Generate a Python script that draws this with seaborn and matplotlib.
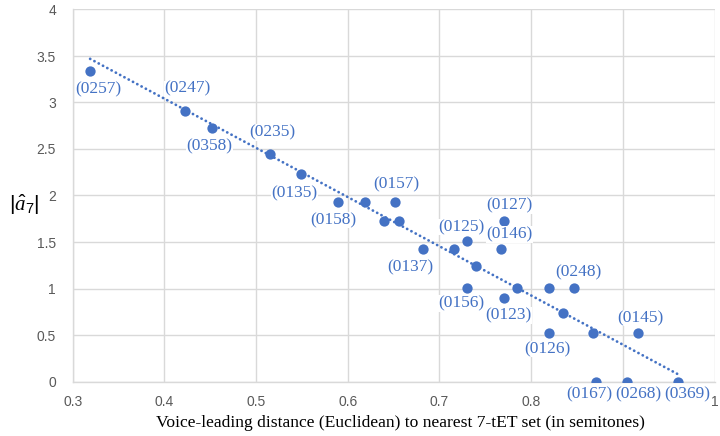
import numpy as np
import pandas as pd
import matplotlib
matplotlib.use("Agg")
import matplotlib.pyplot as plt
import seaborn as sns

# ---- data ----
distance = [0.319, 0.4225, 0.4516, 0.5148, 0.5486, 0.5896, 0.619, 0.652, 0.6395, 0.656,
            0.6823, 0.7155, 0.730, 0.740, 0.730, 0.7707, 0.7674, 0.7707, 0.7842, 0.8194,
            0.8467, 0.8343, 0.8194, 0.8677, 0.9168, 0.8707, 0.9048, 0.9604]
magnitude = [3.34, 2.91, 2.73, 2.45, 2.23, 1.93, 1.93, 1.93, 1.73, 1.73,
             1.42, 1.42, 1.51, 1.24, 1.01, 1.73, 1.42, 0.90, 1.01, 1.01,
             1.01, 0.74, 0.52, 0.52, 0.52, 0.0, 0.0, 0.0]
labels = ["(0257)", "(0247)", "(0358)", "(0235)", "(0135)", "(0158)", "", "(0157)", "", "",
          "(0137)", "", "(0125)", "", "(0156)", "(0127)", "(0146)", "(0123)", "", "",
          "(0248)", "", "(0126)", "", "(0145)", "(0167)", "(0268)", "(0369)"]
x_ticks = [0.3, 0.4, 0.5, 0.6, 0.7, 0.8, 0.9, 1.0]
# the 0.9 label is hidden behind the (0268) data label in the reference
x_tick_labels = ["0.3", "0.4", "0.5", "0.6", "0.7", "0.8", "", "1"]
y_ticks = [0, 0.5, 1, 1.5, 2, 2.5, 3, 3.5, 4]
y_tick_labels = ["0", "0.5", "1", "1.5", "2", "2.5", "3", "3.5", "4"]
x_title = "Voice-leading distance (Euclidean) to nearest 7-tET set (in semitones)"
y_title = r"$|\hat{a}_7|$"

# label placement offsets in pixels (dx right, dy down)
label_offsets = {
    "(0257)": (8, 19), "(0247)": (2, -22), "(0358)": (-2, 19), "(0235)": (3, -21),
    "(0135)": (-6, 19), "(0158)": (-5, 18), "(0157)": (1, -18), "(0137)": (-13, 18),
    "(0125)": (-6, -14), "(0127)": (5, -15), "(0146)": (8, -15), "(0156)": (-6, 16),
    "(0123)": (4, 18), "(0248)": (4, -15), "(0126)": (-2, 16), "(0145)": (2, -15),
    "(0167)": (-7, 13), "(0268)": (11, 13), "(0369)": (9, 13),
}

BLUE = "#4472C4"
GRID = "#D9D9D9"

sns.set_theme(style="white")
plt.rcParams["font.family"] = ["Liberation Sans", "DejaVu Sans"]
plt.rcParams["mathtext.fontset"] = "custom"
plt.rcParams["mathtext.rm"] = "Liberation Sans"
plt.rcParams["mathtext.it"] = "Liberation Serif:italic"

df = pd.DataFrame({"distance": distance, "magnitude": magnitude, "label": labels})

fig = plt.figure(figsize=(7.2, 4.36), dpi=100)
ax = fig.add_axes([72.7 / 720, 1 - 381.5 / 436, (714.6 - 72.7) / 720, (381.5 - 9.5) / 436])

# trendline (linear fit)
coef = np.polyfit(df["distance"], df["magnitude"], 1)
xs = np.array([df["distance"].min(), df["distance"].max()])
ax.plot(xs, np.polyval(coef, xs), linestyle=(0, (0.05, 1.7)), color=BLUE, linewidth=2.0,
        zorder=3, dash_capstyle="round")

sns.scatterplot(data=df, x="distance", y="magnitude", ax=ax, color=BLUE, s=55,
                edgecolor=BLUE, linewidth=0, zorder=4)

for _, r in df.iterrows():
    if r["label"]:
        dx, dy = label_offsets[r["label"]]
        ax.annotate(r["label"], (r["distance"], r["magnitude"]), xytext=(dx * 0.72, -dy * 0.72),
                    textcoords="offset points", ha="center", va="center", color=BLUE,
                    fontsize=12.5, family="Liberation Serif", zorder=6, annotation_clip=False,
                    bbox=dict(facecolor="white", edgecolor="none", pad=0.3))

ax.set_xlim(0.3, 1.0)
ax.set_ylim(0, 4)
ax.set_xticks(x_ticks)
ax.set_xticklabels(x_tick_labels)
ax.set_yticks(y_ticks)
ax.set_yticklabels(y_tick_labels)
ax.tick_params(axis="both", length=0, labelsize=10, labelcolor="#595959")
ax.tick_params(axis="x", pad=10)
ax.tick_params(axis="y", pad=12)
ax.grid(True, color=GRID, linewidth=1)
ax.set_axisbelow(True)
for side in ["top", "right"]:
    ax.spines[side].set_visible(False)
for side in ["left", "bottom"]:
    ax.spines[side].set_color(GRID)
    ax.spines[side].set_linewidth(1)
ax.set_xlabel("")
ax.set_ylabel("")

fig.text(400.8 / 720, 1 - 423.3 / 436, x_title, ha="center", va="center",
         family="Liberation Serif", fontsize=12.6, color="black")
fig.text(24 / 720, 1 - 205 / 436, y_title, ha="center", va="center", fontsize=15, color="black")

fig.savefig("out.png", dpi=100)
